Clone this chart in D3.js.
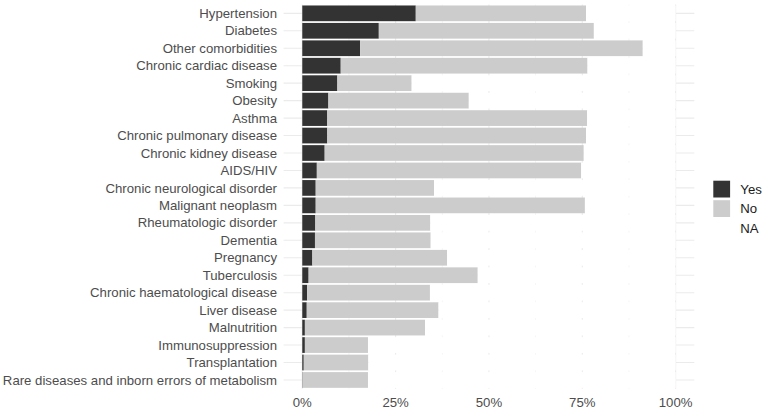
<!DOCTYPE html>
<html><head><meta charset="utf-8">
<script src="https://cdn.jsdelivr.net/npm/d3@7"></script>
<style>body{margin:0;background:#fff}svg{display:block}</style>
</head><body>
<svg id="c" width="764" height="409"></svg>
<script>
const categories = ["Hypertension","Diabetes","Other comorbidities","Chronic cardiac disease","Smoking","Obesity","Asthma","Chronic pulmonary disease","Chronic kidney disease","AIDS/HIV","Chronic neurological disorder","Malignant neoplasm","Rheumatologic disorder","Dementia","Pregnancy","Tuberculosis","Chronic haematological disease","Liver disease","Malnutrition","Immunosuppression","Transplantation","Rare diseases and inborn errors of metabolism"];
const yesValues = [30.4,20.5,15.5,10.3,9.4,7.0,6.7,6.7,6.0,3.9,3.6,3.6,3.5,3.4,2.7,1.7,1.3,1.2,0.7,0.7,0.4,0.1];
const totalKnown = [76.0,78.1,91.2,76.4,29.3,44.6,76.3,76.0,75.4,74.7,35.3,75.7,34.3,34.4,38.8,47.0,34.2,36.5,32.9,17.6,17.7,17.6];
const noValues = totalKnown.map((t,i)=>+(t-yesValues[i]).toFixed(1));
const naValues = totalKnown.map(t=>+(100-t).toFixed(1));
const seriesNames = ["Yes","No","NA"];
const xTicks = [0,25,50,75,100];
const xMinor = [12.5,37.5,62.5,87.5];

const colors = {Yes:"#333333", No:"#cccccc", NA:"#ffffff"};
const FONT = "Liberation Sans, Arial, sans-serif";
const svg = d3.select("#c");
const x = d3.scaleLinear().domain([-5,105]).range([283.6,694.3]);
const y = d3.scaleBand().domain(categories).range([4.6,388.7]).paddingInner(0.1).paddingOuter(0.05);

const rows = categories.map((c,i)=>({cat:c, Yes:yesValues[i], No:noValues[i], NA:naValues[i]}));
const stack = d3.stack().keys(seriesNames)(rows);

const g = svg.append("g");
g.selectAll(".minor").data(xMinor).join("line")
 .attr("x1",d=>x(d)).attr("x2",d=>x(d)).attr("y1",y.range()[0]).attr("y2",y.range()[1])
 .attr("stroke","#ebebeb").attr("stroke-width",0.55);
g.selectAll(".major").data(xTicks).join("line")
 .attr("x1",d=>x(d)).attr("x2",d=>x(d)).attr("y1",y.range()[0]).attr("y2",y.range()[1])
 .attr("stroke","#ebebeb").attr("stroke-width",1.1);
g.selectAll(".hgrid").data(categories).join("line")
 .attr("x1",x.range()[0]).attr("x2",x.range()[1])
 .attr("y1",d=>y(d)+y.bandwidth()/2).attr("y2",d=>y(d)+y.bandwidth()/2)
 .attr("stroke","#ebebeb").attr("stroke-width",1.1);

stack.forEach(s=>{
  g.append("g").selectAll("rect").data(s).join("rect")
   .attr("x",d=>x(d[0])).attr("width",d=>x(d[1])-x(d[0]))
   .attr("y",d=>y(d.data.cat)).attr("height",y.bandwidth())
   .attr("fill",colors[s.key]);
});

g.selectAll(".ylab").data(categories).join("text")
 .attr("x",277).attr("y",d=>y(d)+y.bandwidth()/2).attr("dy","0.35em")
 .attr("text-anchor","end").attr("font-family",FONT)
 .attr("font-size",13.2).attr("fill","#4d4d4d").text(d=>d);

g.selectAll(".xlab").data(xTicks).join("text")
 .attr("x",d=>x(d)).attr("y",402.7).attr("dy","0.35em")
 .attr("text-anchor","middle").attr("font-family",FONT)
 .attr("font-size",13.2).attr("fill","#4d4d4d").text(d=>d3.format(".0%")(d/100));

const lg = svg.append("g").attr("transform","translate(713.3,180.7)");
seriesNames.forEach((k,i)=>{
  lg.append("rect").attr("x",0).attr("y",i*19.5).attr("width",16.8).attr("height",16.8).attr("fill",colors[k]);
  lg.append("text").attr("x",27).attr("y",i*19.5+8.4).attr("dy","0.35em")
   .attr("font-family",FONT).attr("font-size",13.2)
   .attr("fill","#1a1a1a").text(k);
});
</script>
</body></html>
